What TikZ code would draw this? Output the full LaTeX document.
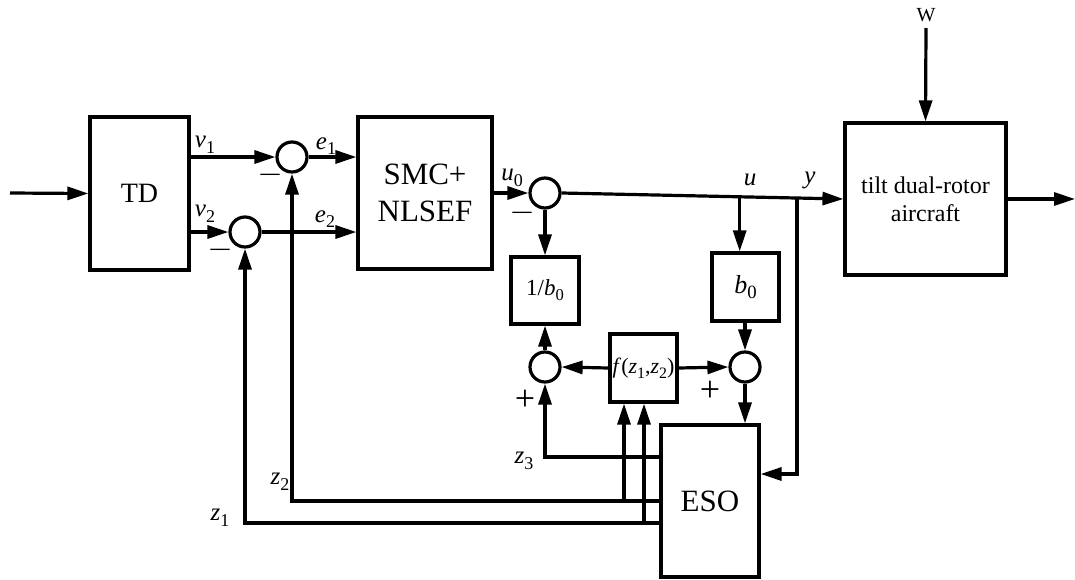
\documentclass[tikz,border=0pt]{standalone}
\usepackage{fontspec}
\usepackage{graphicx}
\setmainfont{Liberation Serif}
\usetikzlibrary{arrows.meta,calc}
\newcommand\sbs[1]{\raisebox{-0.22em}{\scalebox{0.72}{#1}}}
\newcommand\iv[2]{\textit{#1}\sbs{#2}}
\newcommand\mns{\scalebox{1.6}[1]{−}}
\begin{document}
\begin{tikzpicture}[x=1pt,y=-1pt,
 line width=3.2pt,
 arr/.style={-{Triangle[length=21pt,width=13pt]}},
 blk/.style={draw,rectangle,inner sep=0pt,align=center},
 sumc/.style={draw,circle,minimum size=30pt,inner sep=0pt},
 lab/.style={inner sep=0pt,font=\fontsize{25}{28}\selectfont},
 sgn/.style={inner sep=0pt,font=\fontsize{26}{28}\selectfont},
 pls/.style={inner sep=0pt,font=\fontsize{36}{38}\selectfont}]
\useasboundingbox (0,0) rectangle (1075,579);
% blocks
\node[blk,minimum width=99pt,minimum height=153pt,font=\fontsize{28}{32}\selectfont] (TD) at (139.5,193.5) {TD};
\node[blk,minimum width=134pt,minimum height=152pt,font=\fontsize{31}{37}\selectfont] (SMC) at (425,193) {SMC+\\NLSEF};
\node[sumc] (c1) at (292,157) {};
\node[sumc] (c2) at (245,232) {};
\node[sumc] (c3) at (545,193) {};
\node[blk,minimum width=68pt,minimum height=67pt,font=\fontsize{23}{26}\selectfont] (inv) at (545,290.5) {1/\iv{b}{0}};
\node[blk,minimum width=67pt,minimum height=68pt,font=\fontsize{26}{28}\selectfont] (bz) at (745.5,287) {\iv{b}{0}};
\node[sumc] (c4) at (545,367) {};
\node[sumc] (c5) at (745,367) {};
\node[blk,minimum width=67pt,minimum height=68pt,font=\fontsize{22}{24}\selectfont] (fz) at (643.5,368) {\textit{f}(\iv{z}{1},\iv{z}{2})};
\node[blk,minimum width=98pt,minimum height=152pt,font=\fontsize{31}{37}\selectfont] (ESO) at (710,501) {ESO};
\node[blk,minimum width=161pt,minimum height=152pt,font=\fontsize{24}{28}\selectfont] (plant) at (925.5,199) {tilt dual-rotor\\aircraft};
% coordinates
\coordinate (in) at (10,193);
\coordinate (out) at (1075,199);
\coordinate (w) at (926,28);
\coordinate (bu) at ($(c3.east)!0.632!(plant.west)$);
\coordinate (by) at ($(c3.east)!0.835!(plant.west)$);
\coordinate (yc) at (798,474);
\coordinate (z3) at (545,457);
\coordinate (z2) at (292,501);
\coordinate (z1) at (245,523);
\coordinate (fz2) at (624,501);
\coordinate (fz1) at (644,523);
% connectors
\draw[arr] (in) -- (TD.west);
\draw[arr] (c1 -| TD.east) -- (c1.west);
\draw[arr] (c2 -| TD.east) -- (c2.west);
\draw[arr] (c1.east) -- (c1 -| SMC.west);
\draw[arr] (c2.east) -- (c2 -| SMC.west);
\draw[arr] (SMC.east) -- (c3.west);
\draw[arr] (c3.east) -- (plant.west);
\draw[arr] (c3.south) -- (inv.north);
\draw[arr] (bu) -- (bu |- bz.north);
\draw[arr] (bz.south -| c5) -- (c5.north);
\draw[arr] (c5.south) -- (c5.south |- ESO.north);
\draw[arr] (fz.west) -- (c4.east);
\draw[arr] (fz.east) -- (c5.west);
\draw[arr] (c4.north) -- (inv.south);
\draw[arr] (ESO.west |- z3) -- (z3) -- (c4.south);
\draw[arr] (ESO.west |- z2) -- (z2) -- (c1.south);
\draw[arr] (ESO.west |- z1) -- (z1) -- (c2.south);
\draw[arr] (fz2) -- (fz2 |- fz.south);
\draw[arr] (fz1) -- (fz1 |- fz.south);
\draw[arr] (by) -- (by |- yc) -- (ESO.east |- yc);
\draw[arr] (w) -- (plant.north);
\draw[arr] (plant.east) -- (out);
% labels
\node[lab] (lv1) at (205,145) {\iv{v}{1}};
\node[lab] (lv2) at (205,214) {\iv{v}{2}};
\node[lab] (le1) at (326,146) {\iv{e}{1}};
\node[lab] (le2) at (325,219) {\iv{e}{2}};
\node[sgn] (lm1) at (270,179) {\mns};
\node[sgn] (lm2) at (220,254) {\mns};
\node[lab] (lu0) at (512,178) {\iv{u}{0}};
\node[sgn] (lm3) at (522,217) {\mns};
\node[lab] (lu) at (750,180) {\textit{u}};
\node[lab] (ly) at (810,180) {\textit{y}};
\node[lab] (lz3) at (524,461) {\iv{z}{3}};
\node[pls] (lp4) at (525,400) {+};
\node[pls] (lp5) at (710,391) {+};
\node[lab] (lz2) at (280,482) {\iv{z}{2}};
\node[lab] (lz1) at (220,518) {\iv{z}{1}};
\node[inner sep=0pt,font=\fontsize{20}{22}\selectfont] (lw) at (926,15) {W};
\end{tikzpicture}
\end{document}
